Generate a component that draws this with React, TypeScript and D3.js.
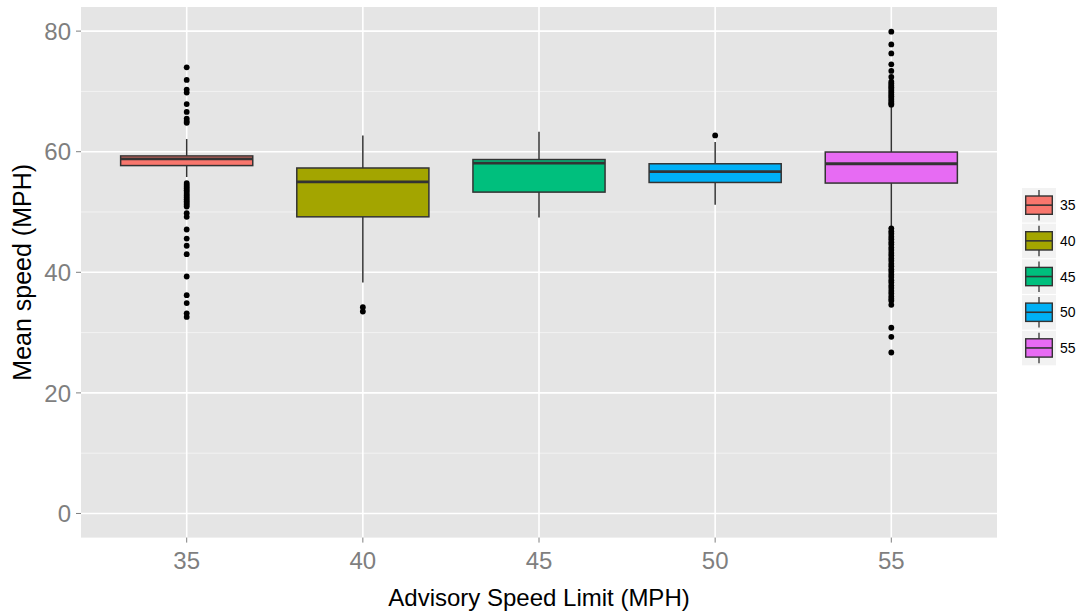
import React from "react";
import * as d3 from "d3";

const categories = ["35", "40", "45", "50", "55"];
const colors = ["#F8766D", "#A3A500", "#00BF7D", "#00B0F6", "#E76BF3"];
const q1 = [57.7, 49.2, 53.3, 54.9, 54.8];
const medians = [58.8, 55.0, 58.1, 56.7, 58.0];
const q3 = [59.3, 57.3, 58.7, 58.0, 59.95];
const whiskerLow = [55.8, 38.3, 49.1, 51.2, 47.5];
const whiskerHigh = [62.1, 62.7, 63.3, 61.6, 67.7];

const outliers35 = [
  74.0, 71.9, 70.3, 69.8, 67.9, 66.6, 65.5, 65.1, 64.8,
  54.8, 54.5, 54.2, 53.9, 53.6, 53.3, 53.0, 52.7, 52.4, 52.1, 51.8, 51.5, 51.2, 50.9,
  49.8, 49.2, 47.1, 45.6, 44.4, 43.0, 39.3, 36.2, 34.9, 33.2, 32.6,
];
const outliers40 = [34.2, 33.5];
const outliers45: number[] = [];
const outliers50 = [62.7];
const outliers55 = [
  79.9, 77.8, 76.3, 74.5, 73.4, 72.4,
  71.6, 71.3, 71.0, 70.7, 70.4, 70.1, 69.8, 69.5, 69.2, 68.9, 68.6, 68.3, 68.0, 67.8,
  47.3, 46.8, 46.4, 45.9, 45.5, 45.0, 44.6, 44.1, 43.7, 43.2, 42.8, 42.3, 41.9, 41.4,
  41.0, 40.5, 40.1, 39.6, 39.2, 38.7, 38.3, 37.8, 37.4, 36.9, 36.5, 36.0, 35.6, 35.3,
  34.6, 30.8, 29.3, 26.7,
];
const outliers = [outliers35, outliers40, outliers45, outliers50, outliers55];

const yMajorTicks = [0, 20, 40, 60, 80];
const yMinorTicks = [10, 30, 50, 70];

const FONT = "'Liberation Sans', Arial, Helvetica, sans-serif";

export default function App() {
  const panelLeft = 81;
  const panelRight = 997;
  const panelTop = 7;
  const panelBottom = 537.6;

  const x = d3.scaleLinear().domain([0.4, categories.length + 0.6]).range([panelLeft, panelRight]);
  const y = d3.scaleLinear().domain([-4, 84]).range([panelBottom, panelTop]);
  const boxHalf = (x(1.75) - x(1)) / 2;

  const legendX = 1022;
  const legendY = 188;
  const keyW = 34;
  const keyH = 34.5;
  const keyGap = 1.2;

  return (
    <div style={{ position: "fixed", left: 0, top: 0 }}>
      <svg width={1081} height={614} style={{ display: "block", background: "#fff" }} fontFamily={FONT}>
        <rect x={panelLeft} y={panelTop} width={panelRight - panelLeft} height={panelBottom - panelTop} fill="#E5E5E5" />
        {yMinorTicks.map((t) => (
          <line key={"mi" + t} x1={panelLeft} x2={panelRight} y1={y(t)} y2={y(t)} stroke="#F2F2F2" strokeWidth={1} />
        ))}
        {yMajorTicks.map((t) => (
          <line key={"ma" + t} x1={panelLeft} x2={panelRight} y1={y(t)} y2={y(t)} stroke="#FFFFFF" strokeWidth={1.6} />
        ))}
        {categories.map((c, i) => (
          <line key={"vx" + c} x1={x(i + 1)} x2={x(i + 1)} y1={panelTop} y2={panelBottom} stroke="#FFFFFF" strokeWidth={1.6} />
        ))}

        {categories.map((c, i) => {
          const cx = x(i + 1);
          return (
            <g key={"box" + c}>
              <line x1={cx} x2={cx} y1={y(q3[i])} y2={y(whiskerHigh[i])} stroke="#333333" strokeWidth={1.5} />
              <line x1={cx} x2={cx} y1={y(q1[i])} y2={y(whiskerLow[i])} stroke="#333333" strokeWidth={1.5} />
              <rect
                x={cx - boxHalf}
                y={y(q3[i])}
                width={boxHalf * 2}
                height={y(q1[i]) - y(q3[i])}
                fill={colors[i]}
                stroke="#333333"
                strokeWidth={1.5}
              />
              <line x1={cx - boxHalf} x2={cx + boxHalf} y1={y(medians[i])} y2={y(medians[i])} stroke="#333333" strokeWidth={2.8} />
              {outliers[i].map((v, j) => (
                <circle key={j} cx={cx} cy={y(v)} r={2.9} fill="#000" />
              ))}
            </g>
          );
        })}

        {/* Y axis */}
        {yMajorTicks.map((t) => (
          <g key={"yt" + t}>
            <line x1={panelLeft - 5} x2={panelLeft} y1={y(t)} y2={y(t)} stroke="#7F7F7F" strokeWidth={1} />
            <text x={71} y={y(t)} dy="0.36em" textAnchor="end" fontSize={24} fill="#7F7F7F">
              {t}
            </text>
          </g>
        ))}
        {/* X axis */}
        {categories.map((c, i) => (
          <g key={"xt" + c}>
            <line x1={x(i + 1)} x2={x(i + 1)} y1={panelBottom} y2={panelBottom + 5} stroke="#7F7F7F" strokeWidth={1} />
            <text x={x(i + 1)} y={569} textAnchor="middle" fontSize={24} fill="#7F7F7F">
              {c}
            </text>
          </g>
        ))}

        <text x={(panelLeft + panelRight) / 2} y={606} textAnchor="middle" fontSize={24} fill="#000">
          Advisory Speed Limit (MPH)
        </text>
        <text
          transform={`translate(31,${(panelTop + panelBottom) / 2}) rotate(-90)`}
          textAnchor="middle"
          fontSize={25}
          fill="#000"
        >
          Mean speed (MPH)
        </text>

        {/* Legend */}
        {categories.map((c, i) => {
          const ky = legendY + i * (keyH + keyGap);
          const cx = legendX + keyW / 2;
          return (
            <g key={"lg" + c}>
              <rect x={legendX} y={ky} width={keyW} height={keyH} fill="#F2F2F2" />
              <line x1={cx} x2={cx} y1={ky + 2} y2={ky + keyH - 2} stroke="#333333" strokeWidth={1.3} />
              <rect x={legendX + 3.7} y={ky + 8} width={keyW - 7.4} height={18.3} fill={colors[i]} stroke="#333333" strokeWidth={1.4} />
              <line x1={legendX + 3.7} x2={legendX + keyW - 3.7} y1={ky + 17.15} y2={ky + 17.15} stroke="#333333" strokeWidth={1.6} />
              <text x={1060} y={ky + keyH / 2} dy="0.36em" fontSize={14} fill="#000">
                {c}
              </text>
            </g>
          );
        })}
      </svg>
    </div>
  );
}
